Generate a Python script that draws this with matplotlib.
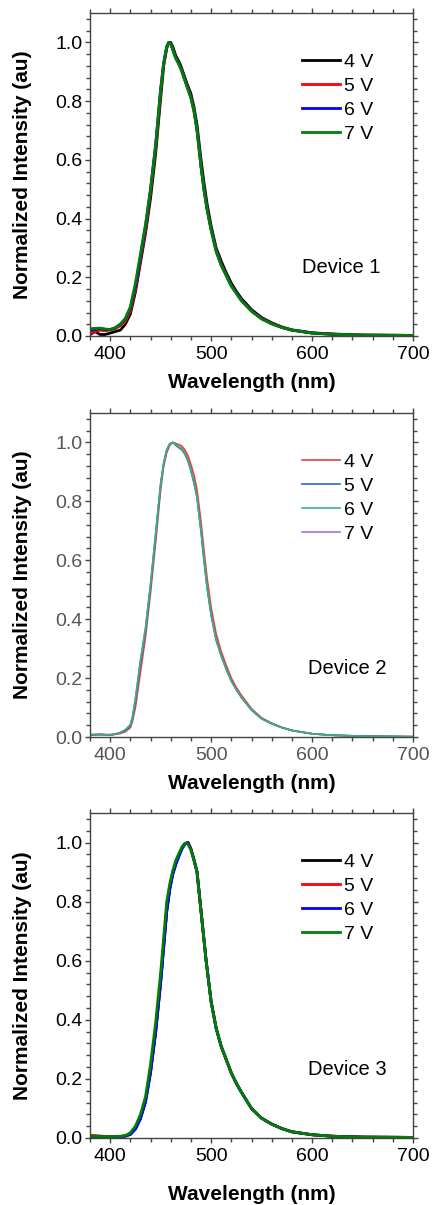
import matplotlib
matplotlib.use("Agg")
import matplotlib.pyplot as plt
from matplotlib.ticker import MultipleLocator

plt.rcParams['font.family'] = ['Liberation Sans', 'DejaVu Sans']

voltages = ["4 V", "5 V", "6 V", "7 V"]

# Device 1 spectra
wl_1 = [380, 385, 390, 395, 400, 405, 410, 415, 420, 425, 430, 435, 440, 445, 450,
        453, 456, 458, 460, 462, 465, 468, 470, 473, 476, 480, 483, 486, 490, 493,
        496, 500, 505, 510, 515, 520, 525, 530, 540, 550, 560, 570, 580, 600, 620,
        650, 700]
dev1_4v = [0.005, 0.015, 0.005, 0.005, 0.010, 0.015, 0.020, 0.040, 0.075, 0.15, 0.25, 0.35,
           0.47, 0.62, 0.81, 0.92, 0.98, 0.998, 1.0, 0.985, 0.955, 0.935, 0.92, 0.89, 0.86,
           0.825, 0.78, 0.72, 0.60, 0.52, 0.45, 0.375, 0.30, 0.255, 0.215, 0.18, 0.152,
           0.128, 0.09, 0.063, 0.045, 0.031, 0.021, 0.011, 0.007, 0.003, 0.002]
dev1_5v = [0.010, 0.015, 0.020, 0.018, 0.020, 0.025, 0.035, 0.050, 0.085, 0.16, 0.26, 0.36,
           0.49, 0.64, 0.83, 0.925, 0.982, 1.0, 0.996, 0.977, 0.948, 0.928, 0.913, 0.883,
           0.853, 0.815, 0.77, 0.705, 0.58, 0.50, 0.435, 0.365, 0.293, 0.245, 0.208, 0.172,
           0.147, 0.122, 0.086, 0.060, 0.043, 0.030, 0.020, 0.010, 0.006, 0.003, 0.002]
dev1_6v = [0.020, 0.022, 0.025, 0.022, 0.022, 0.028, 0.040, 0.058, 0.095, 0.17, 0.27, 0.375,
           0.50, 0.65, 0.84, 0.93, 0.985, 1.0, 0.996, 0.976, 0.947, 0.927, 0.912, 0.882,
           0.852, 0.812, 0.767, 0.702, 0.578, 0.497, 0.432, 0.362, 0.29, 0.242, 0.206, 0.171,
           0.146, 0.121, 0.085, 0.059, 0.042, 0.029, 0.020, 0.010, 0.006, 0.003, 0.002]
dev1_7v = [0.025, 0.026, 0.027, 0.024, 0.022, 0.028, 0.040, 0.060, 0.100, 0.18, 0.28, 0.38,
           0.50, 0.65, 0.84, 0.93, 0.985, 1.0, 0.995, 0.975, 0.945, 0.925, 0.91, 0.88, 0.85,
           0.81, 0.765, 0.70, 0.575, 0.495, 0.43, 0.36, 0.287, 0.24, 0.205, 0.17, 0.145,
           0.12, 0.084, 0.058, 0.041, 0.029, 0.020, 0.010, 0.006, 0.003, 0.002]

# Device 2 spectra
wl_2 = [380, 390, 400, 405, 410, 415, 420, 422, 425, 430, 435, 440, 445, 450, 453, 456,
        459, 462, 465, 468, 471, 474, 477, 480, 483, 486, 490, 493, 496, 500, 505,
        510, 515, 520, 525, 530, 540, 550, 560, 570, 580, 600, 620, 650, 700]
dev2_4v = [0.008, 0.010, 0.006, 0.009, 0.012, 0.018, 0.032, 0.052, 0.10, 0.22, 0.34, 0.49,
           0.66, 0.84, 0.92, 0.965, 0.99, 1.0, 0.997, 0.993, 0.988, 0.975, 0.955, 0.925,
           0.89, 0.84, 0.73, 0.63, 0.54, 0.44, 0.35, 0.29, 0.243, 0.20, 0.168, 0.142, 0.096,
           0.065, 0.047, 0.033, 0.023, 0.011, 0.006, 0.003, 0.001]
dev2_5v = [0.006, 0.008, 0.007, 0.010, 0.014, 0.022, 0.038, 0.062, 0.12, 0.25, 0.36, 0.51,
           0.68, 0.855, 0.928, 0.973, 0.995, 1.0, 0.99, 0.982, 0.975, 0.96, 0.937, 0.903,
           0.863, 0.812, 0.697, 0.597, 0.507, 0.413, 0.328, 0.275, 0.23, 0.19, 0.16, 0.134,
           0.091, 0.062, 0.045, 0.032, 0.022, 0.011, 0.006, 0.003, 0.001]
dev2_6v = [0.008, 0.008, 0.008, 0.010, 0.015, 0.025, 0.042, 0.068, 0.13, 0.26, 0.37, 0.52,
           0.69, 0.86, 0.93, 0.975, 0.995, 1.0, 0.993, 0.985, 0.978, 0.962, 0.94, 0.905,
           0.865, 0.815, 0.70, 0.60, 0.51, 0.415, 0.33, 0.275, 0.23, 0.19, 0.16, 0.135,
           0.092, 0.062, 0.045, 0.032, 0.022, 0.011, 0.006, 0.003, 0.001]
dev2_7v = [0.007, 0.008, 0.008, 0.010, 0.015, 0.024, 0.040, 0.066, 0.13, 0.26, 0.37, 0.52,
           0.69, 0.86, 0.93, 0.975, 0.995, 1.0, 0.994, 0.986, 0.98, 0.965, 0.943, 0.908,
           0.868, 0.82, 0.705, 0.605, 0.515, 0.42, 0.333, 0.278, 0.232, 0.192, 0.162, 0.136,
           0.093, 0.063, 0.045, 0.032, 0.022, 0.011, 0.006, 0.003, 0.001]

# Device 3 spectra
wl_3 = [380, 390, 400, 410, 415, 420, 425, 430, 435, 440, 445, 450, 453, 456, 459,
        462, 465, 468, 471, 474, 477, 480, 483, 486, 489, 492, 495, 500, 505, 510,
        515, 520, 525, 530, 540, 550, 560, 570, 580, 600, 620, 650, 700]
dev3_4v = [0.008, 0.006, 0.005, 0.005, 0.007, 0.013, 0.032, 0.068, 0.125, 0.225, 0.36, 0.53,
           0.65, 0.77, 0.845, 0.895, 0.928, 0.955, 0.98, 0.996, 1.0, 0.978, 0.942, 0.902,
           0.802, 0.702, 0.602, 0.462, 0.372, 0.31, 0.265, 0.22, 0.185, 0.155, 0.10, 0.067,
           0.047, 0.032, 0.021, 0.011, 0.006, 0.003, 0.002]
dev3_5v = [0.008, 0.006, 0.005, 0.005, 0.007, 0.013, 0.032, 0.068, 0.125, 0.225, 0.36, 0.53,
           0.65, 0.77, 0.845, 0.895, 0.928, 0.955, 0.98, 0.996, 1.0, 0.978, 0.942, 0.902,
           0.802, 0.702, 0.602, 0.462, 0.372, 0.31, 0.265, 0.22, 0.185, 0.155, 0.10, 0.067,
           0.047, 0.032, 0.021, 0.011, 0.006, 0.003, 0.002]
dev3_6v = [0.003, 0.003, 0.003, 0.004, 0.006, 0.012, 0.030, 0.065, 0.122, 0.222, 0.355, 0.525,
           0.645, 0.765, 0.84, 0.892, 0.926, 0.953, 0.978, 0.995, 1.0, 0.977, 0.941, 0.901,
           0.801, 0.701, 0.601, 0.461, 0.371, 0.31, 0.265, 0.22, 0.185, 0.155, 0.10, 0.067,
           0.047, 0.032, 0.021, 0.011, 0.006, 0.003, 0.002]
dev3_7v = [0.006, 0.005, 0.005, 0.006, 0.008, 0.018, 0.040, 0.08, 0.14, 0.25, 0.39, 0.56,
           0.68, 0.80, 0.86, 0.905, 0.94, 0.963, 0.985, 0.998, 0.995, 0.975, 0.94, 0.90,
           0.80, 0.70, 0.60, 0.46, 0.37, 0.31, 0.265, 0.22, 0.185, 0.155, 0.10, 0.067,
           0.047, 0.032, 0.021, 0.011, 0.006, 0.003, 0.002]

bright_colors = ["#000000", "#ff0000", "#0000ff", "#008000"]
soft_colors = ["#e8413f", "#2369d8", "#40b07a", "#a66ee6"]

panels = [
    (wl_1, [dev1_4v, dev1_5v, dev1_6v, dev1_7v], bright_colors, 2.0, "Device 1", "black",
     [0, 1, 2, 3]),
    (wl_2, [dev2_4v, dev2_5v, dev2_6v, dev2_7v], soft_colors, 1.2, "Device 2", "#555555",
     [3, 0, 1, 2]),
    (wl_3, [dev3_4v, dev3_5v, dev3_6v, dev3_7v], bright_colors, 2.0, "Device 3", "black",
     [0, 1, 2, 3]),
]

fig = plt.figure(figsize=(4.32, 12.05), dpi=100)
H = 1205.0
boxes = [(13, 336), (413, 737), (813, 1138)]
xlabel_pad = [7, 7, 14]

for i, (wl, series, colors, lw, name, tcol, order) in enumerate(panels):
    top, bot = boxes[i]
    ax = fig.add_axes([90 / 432, (H - bot) / H, 323 / 432, (bot - top) / H])
    handles = [None] * 4
    for k in order:
        handles[k], = ax.plot(wl, series[k], color=colors[k], lw=lw, label=voltages[k])
    ax.set_xlim(380, 700)
    ax.set_ylim(0, 1.1)
    ax.xaxis.set_major_locator(MultipleLocator(100))
    ax.xaxis.set_minor_locator(MultipleLocator(20))
    ax.yaxis.set_major_locator(MultipleLocator(0.2))
    ax.yaxis.set_minor_locator(MultipleLocator(0.04))
    ax.yaxis.set_major_formatter(plt.FuncFormatter(lambda v, p: f"{v:.1f}"))
    ax.tick_params(axis='both', which='both', direction='out', labelsize=14,
                   labelcolor=tcol, color='#444444', width=1.0)
    ax.tick_params(which='major', length=3.5, pad=4)
    ax.tick_params(axis='y', which='major', pad=2)
    ax.tick_params(which='minor', length=3)
    ax.tick_params(which='both', top=True, right=True)
    for sp in ax.spines.values():
        sp.set_color('#444444')
        sp.set_linewidth(1.0)
    ax.set_xlabel("Wavelength (nm)", fontsize=15, fontweight='bold', labelpad=xlabel_pad[i])
    ax.set_ylabel("Normalized Intensity (au)", fontsize=15, fontweight='bold')
    ax.yaxis.set_label_coords(-0.18, 0.5)
    ax.legend(handles=handles, loc='upper left', bbox_to_anchor=(0.625, 0.905), frameon=False,
              fontsize=14, handlelength=1.95, handletextpad=0.25, labelspacing=0.32,
              borderpad=0)
    ax.text(0.655 if i == 0 else 0.675, 0.212, name, transform=ax.transAxes,
            fontsize=14.5, va='center', ha='left')

fig.savefig("out.png", dpi=100)
